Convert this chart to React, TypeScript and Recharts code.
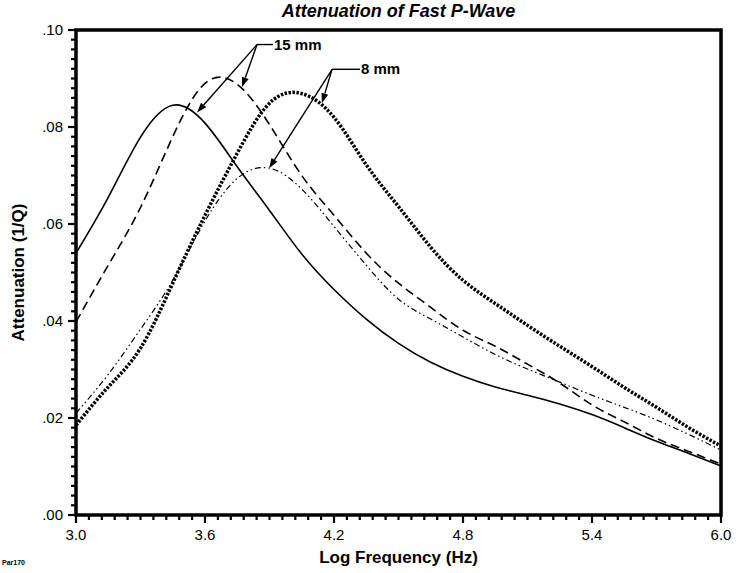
import React from 'react'
import { LineChart, Line, XAxis, YAxis, ReferenceArea, ReferenceLine } from 'recharts'

// log frequency (Hz) sample points
const freq = [3.0, 3.15, 3.3, 3.45, 3.6, 3.75, 3.9, 4.05, 4.2, 4.35, 4.5, 4.65, 4.8, 4.95, 5.1, 5.25, 5.4, 5.55, 5.7, 5.85, 6.0]

// 15 mm curves
const solid15 = [0.054, 0.0655, 0.0779, 0.0845, 0.0808, 0.0718, 0.0628, 0.0538, 0.0465, 0.0404, 0.0354, 0.0315, 0.0286, 0.0264, 0.0247, 0.0229, 0.0207, 0.018, 0.0152, 0.0127, 0.0101]
const dashed15 = [0.0398, 0.0515, 0.0634, 0.078, 0.089, 0.0888, 0.0805, 0.07, 0.0618, 0.054, 0.0478, 0.0428, 0.0381, 0.0348, 0.0311, 0.0272, 0.0227, 0.0192, 0.0158, 0.0131, 0.0105]

// 8 mm curves
const dotted8 = [0.0185, 0.0264, 0.0344, 0.0478, 0.0618, 0.0746, 0.0849, 0.0869, 0.082, 0.0722, 0.0636, 0.0552, 0.0484, 0.0436, 0.0391, 0.0348, 0.0306, 0.0263, 0.0222, 0.018, 0.0142]
const dashDot8 = [0.021, 0.029, 0.0383, 0.0484, 0.0606, 0.0694, 0.0715, 0.0672, 0.0595, 0.0515, 0.0445, 0.0404, 0.0367, 0.0331, 0.0301, 0.0274, 0.0247, 0.0222, 0.0196, 0.0166, 0.0134]

const xMajor = [3.0, 3.6, 4.2, 4.8, 5.4, 6.0]
const yMajor = [0, 0.02, 0.04, 0.06, 0.08, 0.1]
const xTicks = Array.from({ length: 51 }, (_, i) => +(3 + i * 0.06).toFixed(2))
const yTicks = Array.from({ length: 51 }, (_, i) => +(i * 0.002).toFixed(3))

// annotation callouts (data units)
const callouts = [
  { label: '15 mm', from: { x: 3.842, y: 0.097 }, to: { x: 3.916, y: 0.097 }, tips: [{ x: 3.563, y: 0.083 }, { x: 3.772, y: 0.0882 }] },
  { label: '8 mm', from: { x: 4.191, y: 0.0919 }, to: { x: 4.321, y: 0.0919 }, tips: [{ x: 4.144, y: 0.0849 }, { x: 3.898, y: 0.0715 }] },
]

const rows = freq.map((f, i) => ({ f, solid15: solid15[i], dashed15: dashed15[i], dotted8: dotted8[i], dashDot8: dashDot8[i] }))

const FONT = '"Liberation Sans", Arial, Helvetica, sans-serif'

const isMajor = (v: number, list: number[]) => list.some((m) => Math.abs(m - v) < 1e-6)

const XTick = ({ x, y, payload }: any) => {
  if (!isMajor(payload.value, xMajor)) return <g />
  return (
    <text x={x} y={y + 21} textAnchor="middle" fontSize={15} fontFamily={FONT} fill="#000">
      {payload.value.toFixed(1)}
    </text>
  )
}

const YTick = ({ x, y, payload }: any) => {
  if (!isMajor(payload.value, yMajor)) return <g />
  return (
    <text x={x - 8} y={y + 5} textAnchor="end" fontSize={15} fontFamily={FONT} fill="#000">
      {payload.value.toFixed(2).replace(/^0/, '')}
    </text>
  )
}

// tick marks drawn outside the frame
const markX = ({ x1, y1, y2, len }: any) => {
  const yb = Math.max(y1, y2)
  return <path d={`M${x1},${yb}L${x1},${yb + len}`} stroke="#000" strokeWidth={2.2} fill="none" />
}
const markY = ({ x1, x2, y1, len }: any) => {
  const xl = Math.min(x1, x2)
  return <path d={`M${xl},${y1}L${xl - len},${y1}`} stroke="#000" strokeWidth={2.2} fill="none" />
}

const Arrow = ({ x1, y1, x2, y2 }: any) => {
  const ang = Math.atan2(y2 - y1, x2 - x1)
  const L = 10
  const W = 3.5
  const bx = x2 - L * Math.cos(ang)
  const by = y2 - L * Math.sin(ang)
  const px = -Math.sin(ang) * W
  const py = Math.cos(ang) * W
  return (
    <g>
      <line x1={x1} y1={y1} x2={bx} y2={by} stroke="#000" strokeWidth={1.4} />
      <polygon points={`${x2},${y2} ${bx + px},${by + py} ${bx - px},${by - py}`} fill="#000" />
    </g>
  )
}

const makeLeader = (label: string) => ({ x1, y1, x2, y2 }: any) => (
  <g>
    <line x1={x1} y1={y1} x2={x2} y2={y2} stroke="#000" strokeWidth={1.4} />
    <text x={x2 + 1} y={y2 + 5} fontSize={15} fontWeight="bold" fontFamily={FONT} fill="#000">
      {label}
    </text>
  </g>
)

const App = () => {
  return (
    <div style={{ position: 'absolute', left: 0, top: 0, width: 736, height: 573, background: '#fff', fontFamily: FONT }}>
      <LineChart width={736} height={573} data={rows} margin={{ top: 30, right: 15, bottom: 0, left: 0 }}>
        <XAxis
          dataKey="f"
          type="number"
          domain={[3, 6]}
          ticks={xTicks}
          interval={0}
          tick={<XTick />}
          tickSize={4}
          tickMargin={0}
          tickLine={false}
          axisLine={false}
          height={58}
          label={{ value: 'Log Frequency (Hz)', position: 'insideBottom', offset: 10, style: { fontSize: 17, fontWeight: 'bold', fill: '#000', fontFamily: FONT } }}
        />
        <YAxis
          type="number"
          domain={[0, 0.1]}
          ticks={yTicks}
          interval={0}
          tick={<YTick />}
          tickSize={5}
          tickMargin={0}
          tickLine={false}
          axisLine={false}
          width={76}
          label={{ value: 'Attenuation (1/Q)', angle: -90, position: 'insideLeft', offset: 18, style: { textAnchor: 'middle', fontSize: 17, fontWeight: 'bold', fill: '#000', fontFamily: FONT } }}
        />

        {xTicks.map((v) => (
          <ReferenceLine key={'xt' + v} x={v} ifOverflow="visible" shape={(p: any) => markX({ ...p, len: isMajor(v, xMajor) ? 8 : 5 })} />
        ))}
        {yTicks.map((v) => (
          <ReferenceLine key={'yt' + v} y={v} ifOverflow="visible" shape={(p: any) => markY({ ...p, len: isMajor(v, yMajor) ? 8 : 5 })} />
        ))}

        <Line type="natural" dataKey="solid15" stroke="#000" strokeWidth={1.6} dot={false} activeDot={false} isAnimationActive={false} />
        <Line type="natural" dataKey="dashed15" stroke="#000" strokeWidth={1.6} strokeDasharray="9 5" dot={false} activeDot={false} isAnimationActive={false} />
        <Line type="natural" dataKey="dotted8" stroke="#000" strokeWidth={3.5} strokeDasharray="2.5 1.5" dot={false} activeDot={false} isAnimationActive={false} />
        <Line type="natural" dataKey="dashDot8" stroke="#000" strokeWidth={1.2} strokeDasharray="6 3 1.5 3 1.5 3" dot={false} activeDot={false} isAnimationActive={false} />

        <ReferenceArea x1={3} x2={6} y1={0} y2={0.1} fill="none" stroke="#000" strokeWidth={3.5} ifOverflow="visible" />

        {callouts.map((c) => (
          <ReferenceLine key={c.label} segment={[c.from, c.to]} shape={makeLeader(c.label)} />
        ))}
        {callouts.flatMap((c) =>
          c.tips.map((t, i) => <ReferenceLine key={c.label + i} segment={[c.from, t]} shape={Arrow} />)
        )}
      </LineChart>
      <div style={{ position: 'absolute', left: 76, top: 1, width: 645, textAlign: 'center', fontSize: 18, fontWeight: 'bold', fontStyle: 'italic' }}>
        Attenuation of Fast P-Wave
      </div>
      <div style={{ position: 'absolute', left: 2, top: 559, fontSize: 7, fontWeight: 'bold' }}>Par170</div>
    </div>
  )
}

export default App
